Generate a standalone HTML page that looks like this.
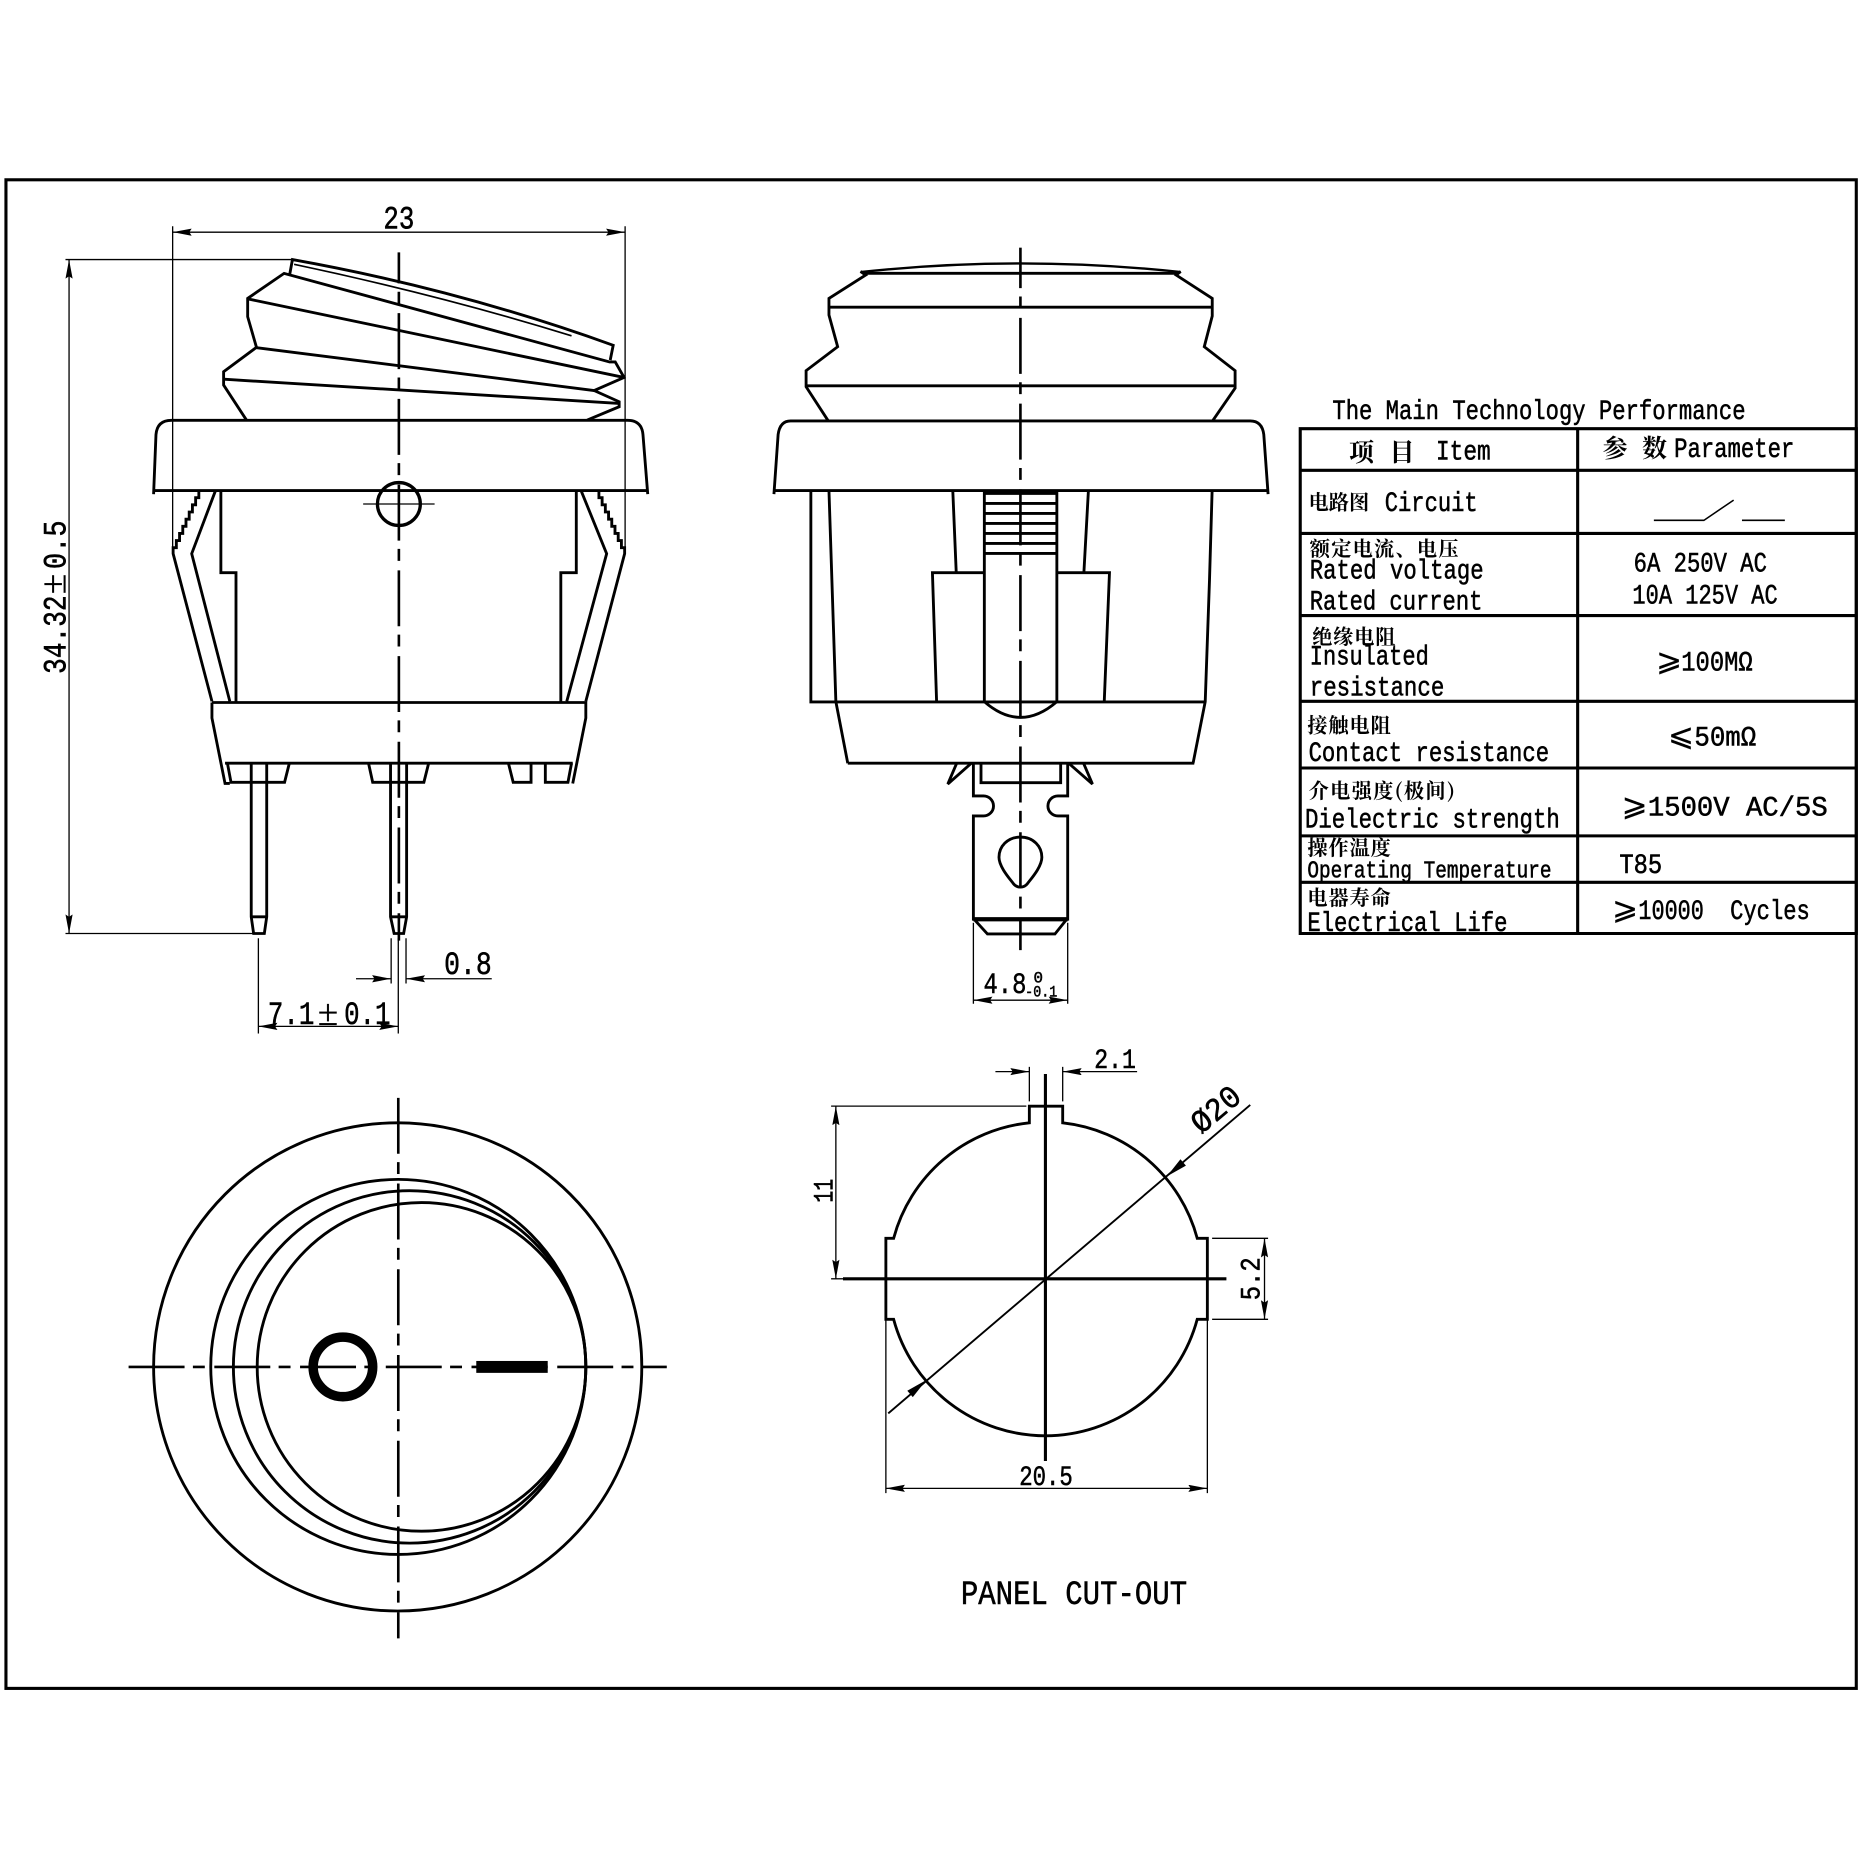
<!DOCTYPE html>
<html><head><meta charset="utf-8"><title>Rocker switch drawing</title>
<style>
html,body{margin:0;padding:0;background:#fff}
svg{display:block}
.o{fill:none;stroke:#000;stroke-width:2.4;stroke-linejoin:miter}
.t{fill:none;stroke:#000;stroke-width:1.1}
.c{fill:none;stroke:#000;stroke-width:2.2;stroke-dasharray:47 7 10 8}
text{font-family:"Liberation Mono","Noto Serif CJK SC",monospace;fill:#000;stroke:#000;stroke-width:.45}
.z{font-family:"Noto Serif CJK SC","Noto Sans CJK SC",serif;font-weight:700;stroke-width:0;font-size:17px}
.n{font-size:23px}
.d{font-size:27px}
.s{font-family:"Liberation Serif",serif;stroke-width:.2}
.g{font-family:"DejaVu Sans",serif;font-size:26px;stroke-width:.2}
</style></head><body>
<svg xmlns="http://www.w3.org/2000/svg" width="1867" height="1867" viewBox="0 0 1568 1568">
<defs>
<marker id="a" markerUnits="userSpaceOnUse" markerWidth="17" markerHeight="7" refX="16" refY="3" orient="auto-start-reverse"><polygon points="0,0 16,3 0,6 2,3" fill="#000"/></marker>
</defs>
<rect x="5" y="151" width="1554" height="1267" fill="#fff" stroke="#000" stroke-width="2.6"/>

<!-- SIDE VIEW -->
<g>
<line class="c" x1="335" y1="212" x2="335" y2="790" style="stroke-dashoffset:21"/>
<g class="o">
<path d="M243.4 230 L245.6 218 Q385 243 515 290 L512.5 302.4"/>
<path d="M247 222 Q370 248 480 282" stroke-width="1.4"/>
<path d="M207 352.8 L187.8 323.4 V312.2 L215.4 291.7 L208 266 V250.6 L238.6 229.6 L512 304 L516.7 304 L524.1 317 L499 328 L520 337.4 V341.6 L493.2 352.8"/>
<path d="M208 251 L524 317 M215.4 292 L499 328 M188 318.5 L520 338.8"/>
<path d="M129 415 L131 365 Q132 353 144 353 H527 Q539 353 540 365 L544 415 M129 412 H544"/>
<circle cx="335" cy="423.3" r="18" stroke-width="2.8"/>
<line x1="305" y1="423.3" x2="365" y2="423.3" stroke-width="1.1"/>
<path d="M185.5 412 V481 H198.2 V590 M484 412 V481 H471 V590"/>
<path d="M167 412 V418 H164.3 V424 H161.6 V430 H158.9 V436 H156.2 V442 H153.5 V448 H150.8 V454 H148.1 V460 H145.4 V465 L178 589"/>
<path d="M503 412 V418 H505.7 V424 H508.4 V430 H511.1 V436 H513.8 V442 H516.5 V448 H519.2 V454 H521.9 V460 H524.6 V465 L492 589"/>
<path d="M181 412 L161 465 L193 589 M488 412 L509.5 465 L476 589"/>
<path d="M178 590 H492 V603 L481 658 M178 590 V603 L189 658 H193 M189 641 H481"/>
<path d="M191 641 L194 657 H239 L243 641 M309.5 641 L313 657 H356 L360 641 M427 641 L431 657 H446 V641 M458 641 V657 H477 L480 641"/>
<path d="M211 641 V770 L213 784 H222 L224 770 V641 M211 770 H224"/>
<path d="M328 641 V770 L331 784 H339 L341.5 770 V641 M328 770 H341.5"/>
</g>
<g class="t">
<line x1="145" y1="190" x2="145" y2="465"/><line x1="525" y1="190" x2="525" y2="465"/>
<line x1="145" y1="195" x2="525" y2="195" marker-start="url(#a)" marker-end="url(#a)"/>
<line x1="55" y1="218" x2="245" y2="218"/><line x1="55" y1="784" x2="212" y2="784"/>
<line x1="58" y1="218" x2="58" y2="784" marker-start="url(#a)" marker-end="url(#a)"/>
<line x1="217" y1="788" x2="217" y2="868"/><line x1="334.5" y1="788" x2="334.5" y2="868"/>
<line x1="217" y1="862" x2="334.5" y2="862" marker-start="url(#a)" marker-end="url(#a)"/>
<line x1="328.5" y1="788" x2="328.5" y2="826"/><line x1="341" y1="788" x2="341" y2="826"/>
<line x1="299" y1="822" x2="328.5" y2="822" marker-end="url(#a)"/>
<line x1="413" y1="822" x2="341" y2="822" marker-end="url(#a)"/>
</g>
<text class="d" x="322" y="192" textLength="26" lengthAdjust="spacingAndGlyphs">23</text>
<text class="d" transform="translate(55,566) rotate(-90)" textLength="66" lengthAdjust="spacingAndGlyphs">34.32</text>
<text class="s" font-size="31" transform="translate(55,499) rotate(-90)">±</text>
<text class="d" transform="translate(55,478) rotate(-90)" textLength="41" lengthAdjust="spacingAndGlyphs">0.5</text>
<text class="d" x="373" y="818" textLength="40" lengthAdjust="spacingAndGlyphs">0.8</text>
<text class="d" x="225" y="860" textLength="39" lengthAdjust="spacingAndGlyphs">7.1</text>
<text class="s" font-size="31" x="267" y="861">±</text>
<text class="d" x="289" y="860" textLength="39" lengthAdjust="spacingAndGlyphs">0.1</text>
</g>

<!-- FRONT VIEW -->
<g>
<g class="o">
<path d="M722.7 228.5 Q857 214 991.6 228.5" stroke-width="2"/>
<path d="M722.7 228 L727 231 L696.2 250.6 V264.6 L703.5 291.2 L677 311.3 V324.8 L695.3 353"/>
<path d="M991.6 228 L987.8 231 L1018.1 250.6 V265.4 L1011.4 291.2 L1037.3 311.3 V326 L1018.7 353"/>
<path d="M725 229.5 H990 M696 258 H1018 M677 324 H1037"/>
<path d="M650 415 L653.5 365 Q655 353.5 664 353.5 H1050 Q1060 353.5 1061.4 365 L1065 415 M650 412 H1065"/>
<path d="M681 412 V589.5 H1012.2 M696.2 412 L698.2 473 L702 589.3 L712 641 M1018 412 L1015.8 487 L1012.2 589.3 L1002 641"/>
<path d="M800.2 412 L803.1 481 M914.1 412 L910.3 481 M826.7 481 H783.1 L786.6 589.3 M887.6 481 H931.8 L927.4 589.3"/>
<path d="M826.7 412 V589.3 M887.6 412 V589.3 M826.7 589.3 Q857 615.7 887.6 589.3"/>
<path d="M826.7 414.4 H887.6 M826.7 422.8 H887.6 M826.7 431.2 H887.6 M826.7 439.6 H887.6 M826.7 448 H887.6 M826.7 456.4 H887.6 M826.7 464.8 H887.6"/>
<path d="M712 641 H1003"/>
<path d="M803.5 641 L796 658.5 L815.8 641 M910 641 L917.5 658.5 L897.5 641"/>
<path d="M817.5 641 V668.5 H826 A8.4 8.4 0 0 1 826 685.3 H817.5 V772 H896.7 V685.3 H888.5 A8.4 8.4 0 0 1 888.5 668.5 H896.7 V641"/>
<path d="M817.5 772 H896.7" stroke-width="3.6"/>
<path d="M818 772 L829.3 784.4 H886 L895.9 772 M823.9 641 V657.3 H890.8 V641"/>
<path d="M857 703 C868 703 875 711 875 720 C875 728 866 738 863 742 C860 746 854 746 851 742 C848 738 839 728 839 720 C839 711 846 703 857 703Z"/>
</g>
<line class="c" x1="857" y1="208" x2="857" y2="798" style="stroke-dashoffset:13"/>
<g class="t">
<line x1="817.5" y1="775" x2="817.5" y2="843"/><line x1="896.7" y1="775" x2="896.7" y2="843"/>
<line x1="817.5" y1="840" x2="896.7" y2="840" marker-start="url(#a)" marker-end="url(#a)"/>
</g>
<text x="826" y="834" font-size="25" textLength="36" lengthAdjust="spacingAndGlyphs">4.8</text>
<text x="868" y="825" font-size="13" textLength="8" lengthAdjust="spacingAndGlyphs">0</text>
<text x="861" y="837" font-size="13" textLength="27" lengthAdjust="spacingAndGlyphs">-0.1</text>
</g>

<!-- TOP VIEW -->
<g>
<circle class="o" cx="334" cy="1148" r="205"/>
<circle class="o" cx="334.5" cy="1148" r="157.5"/>
<circle class="o" cx="344" cy="1148" r="148"/>
<circle class="o" cx="354" cy="1148" r="138"/>
<circle cx="288" cy="1148" r="25" fill="none" stroke="#000" stroke-width="8"/>
<rect x="400" y="1143" width="60" height="10" fill="#000"/>
<line class="c" x1="108" y1="1148" x2="560" y2="1148"/>
<line class="c" x1="334.5" y1="922" x2="334.5" y2="1376"/>
</g>

<!-- PANEL CUT-OUT -->
<g>
<path class="o" stroke-width="3" d="M864.5 943 V929 H892.5 V943 A132 132 0 0 1 1005.5 1040 H1014 V1108 H1005.5 A132 132 0 0 1 750.5 1108 H744 V1040 H750.5 A132 132 0 0 1 864.5 943 Z"/>
<path d="M878 902 V1227 M708 1074 H1030" fill="none" stroke="#000" stroke-width="2.6"/>
<path d="M746 1187 L1050 928" fill="none" stroke="#000" stroke-width="1.6"/>
<polygon points="980,988 991.4,973.6 996,979" fill="#000"/>
<polygon points="778,1159 762,1168 766.6,1173.4" fill="#000"/>
<g class="t">
<line x1="744" y1="1108" x2="744" y2="1254"/><line x1="1014" y1="1108" x2="1014" y2="1254"/>
<line x1="744" y1="1250" x2="1014" y2="1250" marker-start="url(#a)" marker-end="url(#a)"/>
<line x1="698" y1="929" x2="862" y2="929"/><line x1="698" y1="1074" x2="708" y2="1074"/>
<line x1="702" y1="929" x2="702" y2="1074" marker-start="url(#a)" marker-end="url(#a)"/>
<line x1="1018" y1="1040" x2="1065" y2="1040"/><line x1="1018" y1="1108" x2="1065" y2="1108"/>
<line x1="1062" y1="1040" x2="1062" y2="1108" marker-start="url(#a)" marker-end="url(#a)"/>
<line x1="864.5" y1="896" x2="864.5" y2="925"/><line x1="892.5" y1="896" x2="892.5" y2="925"/>
<line x1="836" y1="900" x2="864.5" y2="900" marker-end="url(#a)"/>
<line x1="955" y1="900" x2="892.5" y2="900" marker-end="url(#a)"/>
</g>
<text class="n" x="856" y="1247" textLength="45" lengthAdjust="spacingAndGlyphs">20.5</text>
<text class="n" transform="translate(699,1010) rotate(-90)" textLength="20" lengthAdjust="spacingAndGlyphs">11</text>
<text class="n" transform="translate(1058,1092) rotate(-90)" textLength="36" lengthAdjust="spacingAndGlyphs">5.2</text>
<text class="n" x="919" y="897" textLength="35" lengthAdjust="spacingAndGlyphs">2.1</text>
<text class="d" transform="translate(1009,953) rotate(-40)" textLength="46" lengthAdjust="spacingAndGlyphs">Ø20</text>
<text x="807" y="1347" font-size="29" textLength="190" lengthAdjust="spacingAndGlyphs">PANEL CUT-OUT</text>
</g>

<!-- TABLE -->
<g>
<path d="M1092 360 H1559 V784 H1092 Z M1325 360 V784 M1092 395 H1559 M1092 448 H1559 M1092 517 H1559 M1092 589 H1559 M1092 645 H1559 M1092 702 H1559 M1092 741 H1559" fill="none" stroke="#000" stroke-width="2.6"/>
<text class="n" x="1119" y="352" textLength="347" lengthAdjust="spacingAndGlyphs">The Main Technology Performance</text>
<text class="z" style="font-size:21px" x="1133" y="387">项</text>
<text class="z" style="font-size:21px" x="1167" y="387">目</text>
<text class="n" x="1206" y="386" textLength="46" lengthAdjust="spacingAndGlyphs">Item</text>
<text class="z" style="font-size:21px" x="1346" y="384">参</text>
<text class="z" style="font-size:21px" x="1379" y="384">数</text>
<text class="n" x="1406" y="384" textLength="101" lengthAdjust="spacingAndGlyphs">Parameter</text>
<text class="z" x="1099" y="428">电路图</text>
<text class="n" x="1163" y="429" textLength="78" lengthAdjust="spacingAndGlyphs">Circuit</text>
<path d="M1389 437 H1431 L1456 420 M1463 437 H1499" fill="none" stroke="#000" stroke-width="1.3"/>
<text class="z" x="1100" y="467" textLength="125">额定电流、电压</text>
<text class="n" x="1100" y="486" textLength="146" lengthAdjust="spacingAndGlyphs">Rated voltage</text>
<text class="n" x="1100" y="512" textLength="145" lengthAdjust="spacingAndGlyphs">Rated current</text>
<text class="n" x="1372" y="480" textLength="112" lengthAdjust="spacingAndGlyphs">6A 250V AC</text>
<text class="n" x="1371" y="507" textLength="122" lengthAdjust="spacingAndGlyphs">10A 125V AC</text>
<text class="z" x="1102" y="541" textLength="70">绝缘电阻</text>
<text class="n" x="1100" y="558" textLength="100" lengthAdjust="spacingAndGlyphs">Insulated</text>
<text class="n" x="1100" y="584" textLength="113" lengthAdjust="spacingAndGlyphs">resistance</text>
<text class="g" x="1391" y="563">⩾</text>
<text class="n" x="1412" y="563" textLength="60" lengthAdjust="spacingAndGlyphs">100MΩ</text>
<text class="z" x="1098" y="615" textLength="70">接触电阻</text>
<text class="n" x="1099" y="639" textLength="202" lengthAdjust="spacingAndGlyphs">Contact resistance</text>
<text class="g" x="1401" y="626">⩽</text>
<text class="n" x="1423" y="626" textLength="52" lengthAdjust="spacingAndGlyphs">50mΩ</text>
<text class="z" x="1099" y="670" textLength="123">介电强度(极间)</text>
<text class="n" x="1096" y="695" textLength="214" lengthAdjust="spacingAndGlyphs">Dielectric strength</text>
<text class="g" x="1362" y="685">⩾</text>
<text class="n" x="1384" y="685" textLength="151" lengthAdjust="spacingAndGlyphs">1500V AC/5S</text>
<text class="z" x="1098" y="718" textLength="70">操作温度</text>
<text x="1098" y="737" font-size="20" textLength="205" lengthAdjust="spacingAndGlyphs">Operating Temperature</text>
<text class="n" x="1360" y="733" textLength="36" lengthAdjust="spacingAndGlyphs">T85</text>
<text class="z" x="1098" y="760" textLength="70">电器寿命</text>
<text class="n" x="1098" y="782" textLength="168" lengthAdjust="spacingAndGlyphs">Electrical Life</text>
<text class="g" x="1354" y="772">⩾</text>
<text class="n" x="1376" y="772" textLength="55" lengthAdjust="spacingAndGlyphs">10000</text>
<text class="n" x="1453" y="772" textLength="67" lengthAdjust="spacingAndGlyphs">Cycles</text>
</g>
</svg>
</body></html>
